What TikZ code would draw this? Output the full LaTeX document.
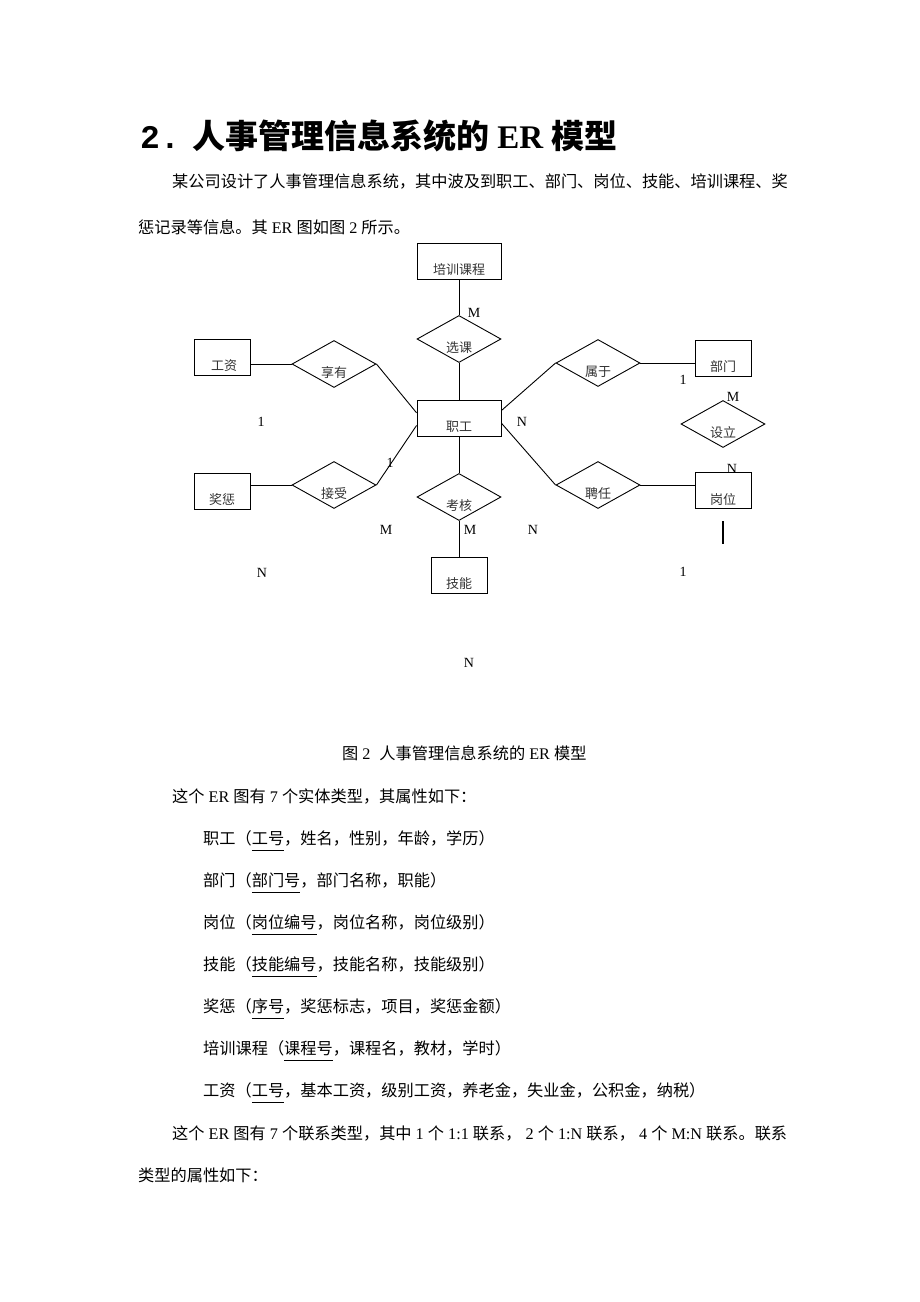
\documentclass[tikz,border=0pt]{standalone}
\usepackage{fontspec}
\setmainfont{Liberation Serif}
\newfontfamily\cjk{Noto Sans CJK SC}
\newfontfamily\monofnt{Liberation Mono}
\usetikzlibrary{shapes.geometric}

% latin run inside chinese text, with a little space round it
\newcommand{\latn}[1]{\hspace{0.25em plus 1em minus 0.2em}{\rmfamily #1}\hspace{0.25em plus 1em minus 0.2em}}
% key attribute, underlined
\newcommand{\keyfld}[1]{\setbox0=\hbox{#1}\rlap{\rule[-7pt]{\wd0}{0.6pt}}\box0}

\tikzset{
  er/.style={draw, line width=0.9pt, inner sep=0pt},
  entbig/.style={er, rectangle, minimum width=84pt, minimum height=36pt},
  entsmall/.style={er, rectangle, minimum width=56pt, minimum height=36pt},
  rel/.style={er, diamond, minimum width=84pt, minimum height=47pt},
  tag/.style={font=\cjk\fontsize{13}{13}\selectfont, text=black!80, yshift=-9pt, inner sep=0pt},
  card/.style={font=\fontsize{14}{14}\selectfont, inner sep=0pt},
  body/.style={font=\cjk\fontsize{16.2}{16.2}\selectfont, anchor=base west, inner sep=0pt},
}

\begin{document}
\begin{tikzpicture}[x=1pt,y=-1pt]
  \path[fill=white, use as bounding box] (0,0) rectangle (920,1302);

  % heading and text above the figure
  \node[anchor=base west, inner sep=0pt, font=\monofnt\bfseries\fontsize{33}{33}\selectfont] (num) at (140,148) {2.};
  \node[body, font=\cjk\bfseries\fontsize{33}{33}\selectfont] (title) at (192,148) {人事管理信息系统的\latn{ER}模型};
  \node[body] (para1) at (172,187) {某公司设计了人事管理信息系统，其中波及到职工、部门、岗位、技能、培训课程、奖};
  \node[body] (para2) at (138,233) {惩记录等信息。其\latn{ER}图如图\latn{2}所示。};

  % entities and relations
  \node[entbig] (course) at (459,261) {};
  \node[rel] (choose) at (459,339) {};
  \node[entbig] (staff) at (459,418) {};
  \node[entsmall] (wage) at (222,357) {};
  \node[rel] (enjoy) at (334,364) {};
  \node[entsmall] (award) at (222,491) {};
  \node[rel] (accept) at (334,485) {};
  \node[rel] (assess) at (459,497) {};
  \node[entsmall] (skill) at (459,575) {};
  \node[rel] (belong) at (598,363) {};
  \node[entsmall] (dept) at (723,358) {};
  \node[rel] (setup) at (723,424) {};
  \node[rel] (hire) at (598,485) {};
  \node[entsmall] (post) at (723,490) {};

  \node[tag] (course-t) at (course) {培训课程};
  \node[tag] (choose-t) at (choose) {选课};
  \node[tag] (staff-t) at (staff) {职工};
  \node[tag] (wage-t) at ([xshift=2pt]wage.center) {工资};
  \node[tag] (enjoy-t) at (enjoy) {享有};
  \node[tag] (award-t) at (award) {奖惩};
  \node[tag] (accept-t) at (accept) {接受};
  \node[tag] (assess-t) at (assess) {考核};
  \node[tag] (skill-t) at (skill) {技能};
  \node[tag] (belong-t) at (belong) {属于};
  \node[tag] (dept-t) at (dept) {部门};
  \node[tag] (setup-t) at (setup) {设立};
  \node[tag] (hire-t) at (hire) {聘任};
  \node[tag] (post-t) at (post) {岗位};

  \draw[line width=0.9pt] (course) -- (choose) -- (staff) -- (assess) -- (skill);
  \draw[line width=0.9pt] (wage.east |- enjoy.west) -- (enjoy.west);
  \draw[line width=0.9pt] (enjoy.east) -- (staff.173);
  \draw[line width=0.9pt] (award.east |- accept.west) -- (accept.west);
  \draw[line width=0.9pt] (accept.east) -- (staff.190);
  \draw[line width=0.9pt] (staff.10) -- (belong.west);
  \draw[line width=0.9pt] (belong.east) -- (dept.west |- belong.east);
  \draw[line width=0.9pt] (staff.353) -- (hire.west);
  \draw[line width=0.9pt] (hire.east) -- (post.west |- hire.east);
  \coordinate (stub-a) at (723,521);
  \coordinate (stub-b) at (723,544);
  \draw[line width=1.3pt] (stub-a) -- (stub-b);

  % cardinalities
  \foreach \x/\y/\t [count=\i] in {474/313/M, 261/422/1, 390/463/1, 522/422/N,
      683/380/1, 733/397/M, 732/469/N, 386/530/M, 470/530/M, 533/530/N,
      262/573/N, 683/572/1, 469/663/N}
    \node[card] (card\i) at (\x,\y) {\t};

  % caption and text below
  \node[body] (caption) at (342,759) {图\latn{2}\hspace{0.3em}人事管理信息系统的\latn{ER}模型};
  \node[body] (ents) at (172,802) {这个\latn{ER}图有\latn{7}个实体类型，其属性如下：};
  \foreach \t [count=\i] in {{职工（\keyfld{工号}，姓名，性别，年龄，学历）},
      {部门（\keyfld{部门号}，部门名称，职能）},
      {岗位（\keyfld{岗位编号}，岗位名称，岗位级别）},
      {技能（\keyfld{技能编号}，技能名称，技能级别）},
      {奖惩（\keyfld{序号}，奖惩标志，项目，奖惩金额）},
      {培训课程（\keyfld{课程号}，课程名，教材，学时）},
      {工资（\keyfld{工号}，基本工资，级别工资，养老金，失业金，公积金，纳税）}}
    \node[body] (attr\i) at (203,{802+42*\i}) {\t};
  \node[body] (rels) at (172,1139) {\makebox[615pt][s]{这个\latn{ER}图有\latn{7}个联系类型，其中\latn{1}个\latn{1:1}联系，\latn{2}个\latn{1:N}联系，\latn{4}个\latn{M:N}联系。联系}};
  \node[body] (rels2) at (138,1181) {类型的属性如下：};
\end{tikzpicture}
\end{document}
